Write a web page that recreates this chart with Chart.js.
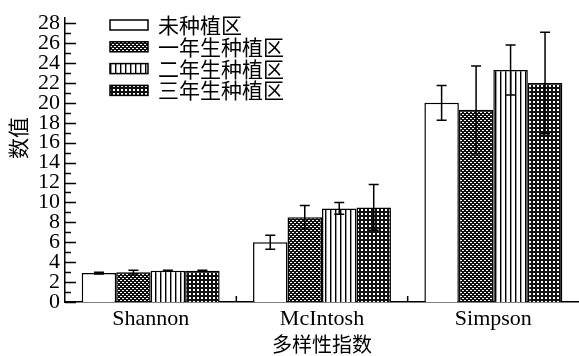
<!DOCTYPE html>
<html><head><meta charset="utf-8">
<script src="https://cdn.jsdelivr.net/npm/chart.js@4/dist/chart.umd.min.js"></script>
<style>html,body{margin:0;background:#fff}#wrap{width:579px;height:356px}</style>
</head><body><div id="wrap"><canvas id="c"></canvas></div>
<script>
const categories = ['Shannon', 'McIntosh', 'Simpson'];
const seriesNames = ['未种植区', '一年生种植区', '二年生种植区', '三年生种植区'];
const noPlant = [2.9, 6.0, 20.0];
const oneYear = [3.0, 8.5, 19.3];
const twoYear = [3.15, 9.4, 23.3];
const threeYear = [3.15, 9.5, 22.0];
const noPlantErr = [0.1, 0.7, 1.75];
const oneYearErr = [0.2, 1.2, 4.4];
const twoYearErr = [0.05, 0.6, 2.5];
const threeYearErr = [0.05, 2.3, 5.1];
const yTicks = [0, 2, 4, 6, 8, 10, 12, 14, 16, 18, 20, 22, 24, 26, 28];

const serif = "'Liberation Serif', 'DejaVu Serif', serif";
const cjk = "'Noto Sans CJK SC', sans-serif";

// small fill patterns like the printed figure
function makePattern(kind){
    const t = document.createElement('canvas');
    const g = t.getContext('2d');
    if(kind == 'white') return '#fff';
    if(kind == 'dots'){
        t.width = 4; t.height = 4;
        g.fillStyle = '#111'; g.fillRect(0,0,4,4);
        g.fillStyle = '#fff';
        g.fillRect(0,0,2,1); g.fillRect(2,2,2,1);
    } else if(kind == 'stripes'){
        t.width = 5; t.height = 4;
        g.fillStyle = '#fff'; g.fillRect(0,0,5,4);
        g.fillStyle = '#000'; g.fillRect(0,0,1.4,4);
    } else {
        t.width = 4; t.height = 4;
        g.fillStyle = '#111'; g.fillRect(0,0,4,4);
        g.fillStyle = '#fff'; g.fillRect(1,1,2,2);
    }
    return g.createPattern(t, 'repeat');
}

const values = [noPlant, oneYear, twoYear, threeYear];
const errors = [noPlantErr, oneYearErr, twoYearErr, threeYearErr];
const kinds = ['white', 'dots', 'stripes', 'grid'];

const datasets = values.map((v, i) => ({
    label: seriesNames[i],
    data: v,
    backgroundColor: makePattern(kinds[i]),
    borderColor: '#000',
    borderWidth: 1.5,
    borderSkipped: 'bottom',
    errs: errors[i]
}));

const extras = {
    id: 'extras',
    afterDatasetsDraw(chart){
        const ctx = chart.ctx, y = chart.scales.y;
        ctx.save();
        ctx.strokeStyle = '#000';
        ctx.lineWidth = 1.5;
        chart.data.datasets.forEach((ds, di) => {
            chart.getDatasetMeta(di).data.forEach((bar, i) => {
                const v = ds.data[i], e = ds.errs[i];
                const top = y.getPixelForValue(v + e), bot = y.getPixelForValue(v - e);
                ctx.beginPath();
                ctx.moveTo(bar.x, top); ctx.lineTo(bar.x, bot);
                ctx.moveTo(bar.x - 5, top); ctx.lineTo(bar.x + 5, top);
                ctx.moveTo(bar.x - 5, bot); ctx.lineTo(bar.x + 5, bot);
                ctx.stroke();
            });
        });
        ctx.restore();
    },
    afterDraw(chart){
        const ctx = chart.ctx, y = chart.scales.y, x = chart.scales.x;
        const area = chart.chartArea;
        ctx.save();
        ctx.strokeStyle = '#000';
        ctx.lineWidth = 1.5;
        // ticks pointing inward, minor on odd values
        ctx.beginPath();
        for(let v = 0; v <= 28; v++){
            const py = Math.round(y.getPixelForValue(v)) + 0.5;
            const len = v % 2 == 0 ? 11 : 6;
            ctx.moveTo(area.left, py); ctx.lineTo(area.left + len, py);
        }
        // small marks between categories
        for(let i = 1; i < categories.length; i++){
            const px = (x.getPixelForValue(i - 1) + x.getPixelForValue(i)) / 2;
            ctx.moveTo(px, area.bottom); ctx.lineTo(px, area.bottom - 6);
        }
        ctx.stroke();

        // legend inside plot
        ctx.font = '21px ' + cjk;
        ctx.textBaseline = 'middle';
        ctx.fillStyle = '#000';
        chart.data.datasets.forEach((ds, i) => {
            const cy = 25 + i * 21.8;
            ctx.fillStyle = ds.backgroundColor;
            ctx.fillRect(110, cy - 5, 38, 10);
            ctx.strokeRect(110, cy - 5, 38, 10);
            ctx.fillStyle = '#000';
            ctx.fillText(ds.label, 158, cy);
        });

        // y title
        ctx.translate(18, 138);
        ctx.rotate(-Math.PI / 2);
        ctx.textAlign = 'center';
        ctx.fillText('数值', 0, 0);
        ctx.restore();
    }
};

new Chart(document.getElementById('c'), {
    type: 'bar',
    data: { labels: categories, datasets: datasets },
    options: {
        responsive: true,
        maintainAspectRatio: false,
        animation: false,
        layout: { padding: { top: 11, right: 0, left: 0, bottom: 0 } },
        datasets: { bar: { categoryPercentage: 0.805, barPercentage: 1.0 } },
        plugins: { legend: { display: false }, tooltip: { enabled: false } },
        scales: {
            x: {
                grid: { display: false, drawTicks: false },
                border: { display: true, color: '#000', width: 1.5 },
                ticks: { color: '#000', font: { family: serif, size: 22 }, padding: 4 },
                title: { display: true, text: '多样性指数', color: '#000', font: { family: cjk, size: 20 }, padding: { top: 0, bottom: 0 } },
                afterFit(s){ s.height = 54; }
            },
            y: {
                min: 0,
                max: 28.5,
                grid: { display: false, drawTicks: false },
                border: { display: true, color: '#000', width: 1.5 },
                ticks: {
                    stepSize: 2, includeBounds: false, autoSkip: false, padding: 5, color: '#000',
                    font: { family: serif, size: 22 },
                    callback: v => yTicks.includes(v) ? v : ''
                },
                afterFit(s){ s.width = 65; }
            }
        }
    },
    plugins: [extras]
});
</script>
</body></html>
